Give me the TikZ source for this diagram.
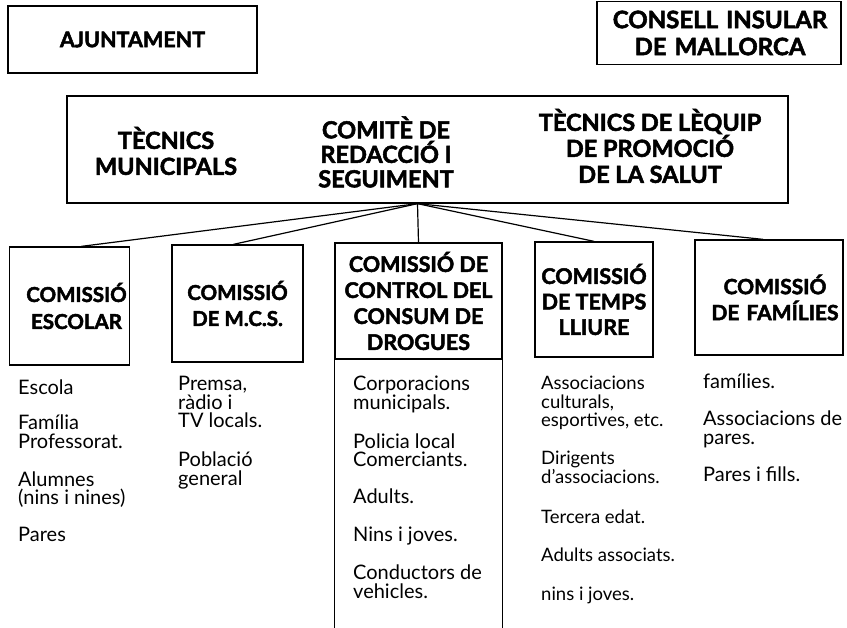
\documentclass[tikz,border=0pt]{standalone}
\usepackage{fontspec}
\setmainfont{Lato}[BoldFeatures={FakeBold=2.2}]
\newcommand{\fs}[2]{\fontsize{#1}{#2}\selectfont}
\begin{document}
\begin{tikzpicture}[x=1pt,y=-1pt,
  box/.style={draw, line width=1.3pt, inner sep=0pt, align=center},
  htext/.style={inner sep=0pt, align=center},
  item/.style={inner sep=0pt, anchor=north west, align=left},
  link/.style={line width=1.2pt}]
\useasboundingbox (0,0) rectangle (847,628);
% top boxes
\node[box, minimum width=249pt, minimum height=67pt, font=\bfseries\fs{21.5}{27}] (ajunt) at (132.5,39.5) {AJUNTAMENT};
\node[box, minimum width=244pt, minimum height=63pt, text width=244pt, font=\bfseries\fs{24}{27}] (consell) at (719,33) {\hspace*{2pt}CONSELL INSULAR\\\hspace*{2pt}DE MALLORCA};
% main box
\node[box, minimum width=721pt, minimum height=107pt] (main) at (427.5,149.5) {};
\node[htext, font=\bfseries\fs{23.5}{26}] (tecmun) at (166,151) {TÈCNICS\\MUNICIPALS};
\node[htext, font=\bfseries\fs{23.5}{24.5}] (comite) at (386,152) {COMITÈ DE\\REDACCIÓ I\\SEGUIMENT};
\node[htext, font=\bfseries\fs{23.5}{26}] (tecequip) at (650,146) {TÈCNICS DE LÈQUIP\\DE PROMOCIÓ\\DE LA SALUT};
% commissions
\node[box, minimum width=120pt, minimum height=118pt, text width=120pt, font=\bfseries\fs{20.5}{27}] (b1) at (69.5,306) {\hspace*{14pt}COMISSIÓ\\\hspace*{14pt}ESCOLAR};
\node[box, minimum width=131pt, minimum height=117pt, font=\bfseries\fs{20.5}{26}] (b2) at (237.5,303.5) {COMISSIÓ\\DE M.C.S.};
\node[box, minimum width=167pt, minimum height=116pt, font=\bfseries\fs{21.5}{26}] (b3) at (418.5,301) {COMISSIÓ DE\\CONTROL DEL\\CONSUM DE\\DROGUES};
\node[box, minimum width=118pt, minimum height=115pt, font=\bfseries\fs{21.5}{25.5}] (b4) at (594,299.5) {COMISSIÓ\\DE TEMPS\\LLIURE};
\node[box, minimum width=148pt, minimum height=115pt, text width=148pt, font=\bfseries\fs{21}{26}] (b5) at (769,297.5) {\hspace*{12pt}COMISSIÓ\\\hspace*{12pt}DE FAMÍLIES};
% body of drug-control column
\draw[link] (b3.south west) -- ++(0,280);
\draw[link] (b3.south east) -- ++(0,280);
% connectors
\coordinate (hub) at ([xshift=-10pt]main.south);
\draw[link] (hub) -- ([xshift=12pt]b1.north);
\draw[link] (hub) -- ([xshift=-4pt]b2.north);
\draw[link] (hub) -- (b3.north);
\draw[link] (hub) -- (b4.north);
\draw[link] (hub) -- ([xshift=-6pt]b5.north);
% lists
\node[item, font=\fs{20}{18.6}] (l1) at (18,380) {Escola\\[16.4pt]Família\\Professorat.\\[19pt]Alumnes\\(nins i nines)\\[18.4pt]Pares};
\node[item, font=\fs{20}{18.6}] (l2) at (178,376) {Premsa,\\ràdio i\\TV locals.\\[20.4pt]Població\\general};
\node[item, font=\fs{20}{18.6}] (l3) at (353,376) {Corporacions\\municipals.\\[20.4pt]Policia local\\Comerciants.\\[18.4pt]Adults.\\[19.4pt]Nins i joves.\\[19.4pt]Conductors de\\vehicles.};
\node[item, font=\fs{18.5}{18.6}] (l4) at (541,376) {Associacions\\culturals,\\esportives, etc.\\[19.4pt]Dirigents\\d'associacions.\\[21.4pt]Tercera edat.\\[19.4pt]Adults associats.\\[20.4pt]nins i joves.};
\node[item, font=\fs{20}{18.6}] (l5) at (703,374) {famílies.\\[18.4pt]Associacions de\\pares.\\[18.4pt]Pares i fills.};
\end{tikzpicture}
\end{document}
